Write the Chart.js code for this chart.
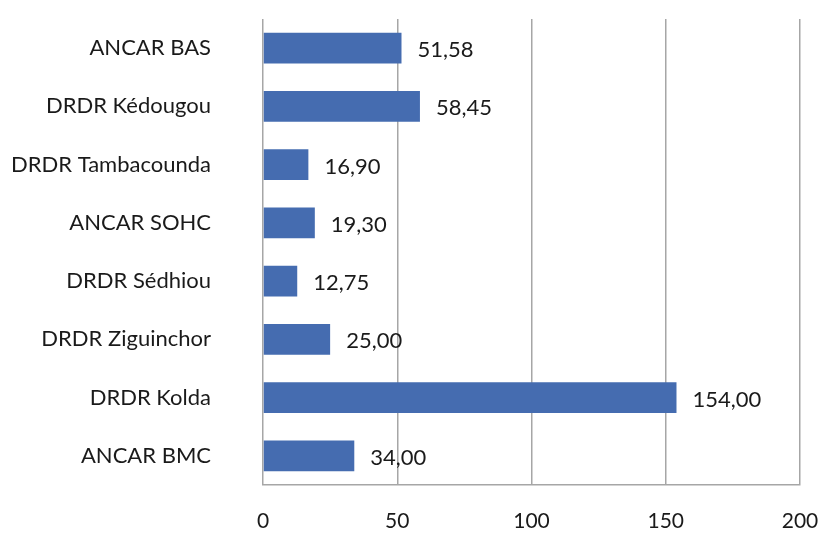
<!DOCTYPE html>
<html>
<head>
<meta charset="utf-8">
<script src="https://cdn.jsdelivr.net/npm/chart.js@4/dist/chart.umd.min.js"></script>
<style>
  html, body { margin: 0; padding: 0; background: #fff; }
  #wrap { width: 821px; height: 533px; }
</style>
</head>
<body>
<div id="wrap"><canvas id="cBar" width="821" height="533"></canvas></div>
<script>
/* ── DADOS ── */
const categorias = ["ANCAR BAS", "DRDR Kédougou", "DRDR Tambacounda", "ANCAR SOHC",
                    "DRDR Sédhiou", "DRDR Ziguinchor", "DRDR Kolda", "ANCAR BMC"];
const valores    = [51.58, 58.45, 16.90, 19.30, 12.75, 25.00, 154.00, 34.00];
const ticksX     = [0, 50, 100, 150, 200];

const fonte = "Lato";
const corBarra = "#456cb0";
const corGrade = "#a6a6a6";
const corTexto = "#1a1a1a";

/* rótulos de valor no fim de cada barra (vírgula decimal) */
const rotulos = {
  id: "rotulos",
  afterDatasetsDraw(chart) {
    const ctx = chart.ctx;
    const meta = chart.getDatasetMeta(0);
    ctx.save();
    ctx.font = "22px " + fonte;
    ctx.fillStyle = corTexto;
    ctx.textBaseline = "middle";
    ctx.textAlign = "left";
    meta.data.forEach((bar, i) => {
      const txt = valores[i].toFixed(2).replace(".", ",");
      ctx.fillText(txt, bar.x + 16, bar.y + 2);
    });
    ctx.restore();
  }
};

// tira o padding extra que as escalas colocam na área do gráfico
const semPadding = s => { s.paddingTop = 0; s.paddingBottom = 0; s.paddingLeft = 0; s.paddingRight = 0; };

new Chart(document.getElementById("cBar"), {
  type: "bar",
  data: {
    labels: categorias,
    datasets: [{ data: valores, backgroundColor: corBarra, barPercentage: 0.53, categoryPercentage: 1 }]
  },
  options: {
    indexAxis: "y",
    responsive: false,
    animation: false,
    layout: { padding: { top: 19, right: 21, left: 0, bottom: 0 } },
    plugins: { legend: { display: false }, tooltip: { enabled: false } },
    scales: {
      x: {
        min: 0, max: 200,
        afterBuildTicks: s => { s.ticks = ticksX.map(v => ({ value: v })); },
        afterFit: s => { s.height = 48; semPadding(s); },
        ticks: { color: corTexto, font: { family: fonte, size: 21 }, padding: 24, maxRotation: 0 },
        grid: { color: corGrade, lineWidth: 1.5, drawTicks: false },
        border: { display: true, color: corGrade, width: 1.5 }
      },
      y: {
        afterFit: s => { s.width = 263; semPadding(s); },
        ticks: { color: corTexto, font: { family: fonte, size: 22 }, padding: 52 },
        grid: { display: false, drawTicks: false },
        border: { display: false }
      }
    }
  },
  plugins: [rotulos]
});
</script>
</body>
</html>
